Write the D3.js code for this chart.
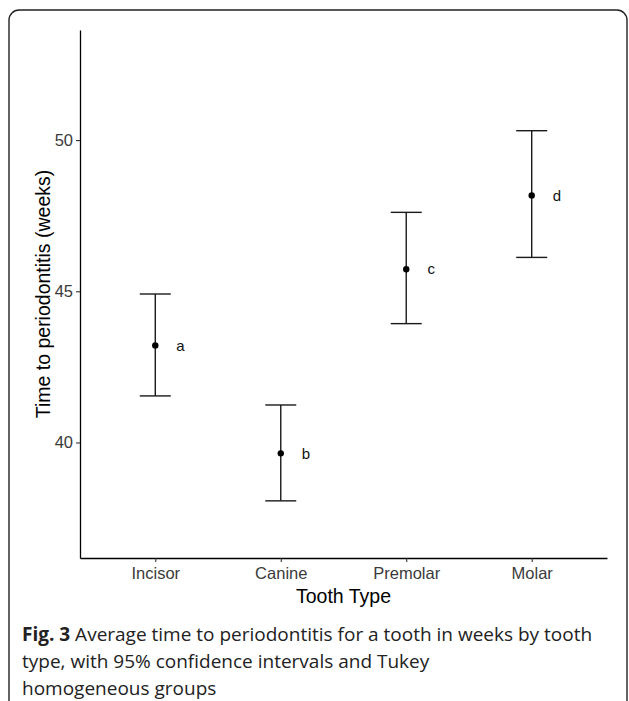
<!DOCTYPE html>
<html>
<head>
<meta charset="utf-8">
<script src="https://cdn.jsdelivr.net/npm/d3@7"></script>
<style>
  body { margin: 0; background: #fff; }
  svg { display: block; }
</style>
</head>
<body>
<svg id="chart"></svg>
<script>
const WIDTH = 629;
const HEIGHT = 701;

// values
const teeth = ['Incisor', 'Canine', 'Premolar', 'Molar'];
const means = [43.21, 39.64, 45.73, 48.17];
const lowers = [41.54, 38.07, 43.93, 46.12];
const uppers = [44.91, 41.24, 47.61, 50.31];
const groups = ['a', 'b', 'c', 'd'];
const yTicks = [40, 45, 50];

const captionLines = [
  ['Fig. 3', ' Average time to periodontitis for a tooth in weeks by tooth'],
  ['', 'type, with 95% confidence intervals and Tukey'],
  ['', 'homogeneous groups']
];

const margin = {top: 30, left: 80, right: 22, bottom: 143};

const svg = d3.select('#chart')
  .attr('width', WIDTH)
  .attr('height', HEIGHT);

// frame round the figure
svg.append('rect')
  .attr('x', 9).attr('y', 10)
  .attr('width', 618).attr('height', 705)
  .attr('rx', 10)
  .attr('fill', 'none')
  .attr('stroke', '#222')
  .attr('stroke-width', 1.4);

const x = d3.scalePoint()
  .domain(teeth)
  .range([margin.left, WIDTH - margin.right])
  .padding(0.6);

const y = d3.scaleLinear()
  .domain([36.18, 53.64])
  .range([HEIGHT - margin.bottom, margin.top]);

const g = svg.append('g');

// axes
const xAxis = g.append('g')
  .attr('transform', `translate(0,${HEIGHT - margin.bottom})`)
  .call(d3.axisBottom(x).tickSize(4).tickPadding(5).tickSizeOuter(0));

const yAxis = g.append('g')
  .attr('transform', `translate(${margin.left},0)`)
  .call(d3.axisLeft(y).tickValues(yTicks).tickSize(4).tickPadding(3).tickSizeOuter(0));

[xAxis, yAxis].forEach(a => {
  a.select('.domain').attr('stroke', '#000').attr('stroke-width', 1.3);
  a.selectAll('.tick line').attr('stroke', '#333').attr('stroke-width', 1.1);
  a.selectAll('.tick text')
    .attr('fill', '#3a3a3a')
    .style('font-family', 'Liberation Sans, Arial, sans-serif')
    .style('font-size', '16.5px');
});

// axis titles
svg.append('text')
  .attr('x', (margin.left + WIDTH - margin.right) / 2)
  .attr('y', 603)
  .attr('text-anchor', 'middle')
  .style('font-family', 'Liberation Sans, Arial, sans-serif')
  .style('font-size', '19.5px')
  .text('Tooth Type');

svg.append('text')
  .attr('transform', `translate(50,${(margin.top + HEIGHT - margin.bottom) / 2}) rotate(-90)`)
  .attr('text-anchor', 'middle')
  .style('font-family', 'Liberation Sans, Arial, sans-serif')
  .style('font-size', '19.5px')
  .text('Time to periodontitis (weeks)');

// error bars
const capHalf = 15.5;
const bars = g.append('g')
  .selectAll('g')
  .data(teeth)
  .enter()
  .append('g');

bars.append('line')
  .attr('x1', d => x(d)).attr('x2', d => x(d))
  .attr('y1', (d, i) => y(uppers[i]))
  .attr('y2', (d, i) => y(lowers[i]));

bars.append('line')
  .attr('x1', d => x(d) - capHalf).attr('x2', d => x(d) + capHalf)
  .attr('y1', (d, i) => y(uppers[i]))
  .attr('y2', (d, i) => y(uppers[i]));

bars.append('line')
  .attr('x1', d => x(d) - capHalf).attr('x2', d => x(d) + capHalf)
  .attr('y1', (d, i) => y(lowers[i]))
  .attr('y2', (d, i) => y(lowers[i]));

bars.selectAll('line')
  .attr('stroke', '#1a1a1a')
  .attr('stroke-width', 1.4);

bars.append('circle')
  .attr('cx', d => x(d))
  .attr('cy', (d, i) => y(means[i]))
  .attr('r', 3.2)
  .attr('fill', '#000');

// Tukey group letters
bars.append('text')
  .attr('x', d => x(d) + 0.2 * x.step())
  .attr('y', (d, i) => y(means[i]))
  .attr('dy', '0.35em')
  .attr('text-anchor', 'middle')
  .style('font-family', 'Liberation Sans, Arial, sans-serif')
  .style('font-size', '15px')
  .attr('fill', '#111')
  .text((d, i) => groups[i]);

// caption
const cap = svg.append('text')
  .style('font-family', 'Open Sans, Noto Sans, sans-serif')
  .style('font-size', '19px')
  .attr('fill', '#222');

captionLines.forEach((line, i) => {
  const t = cap.append('tspan')
    .attr('x', 22)
    .attr('y', 641 + i * 27);
  if (line[0]) {
    t.append('tspan').style('font-weight', 'bold').text(line[0]);
  }
  t.append('tspan').text(line[1]);
});
</script>
</body>
</html>
